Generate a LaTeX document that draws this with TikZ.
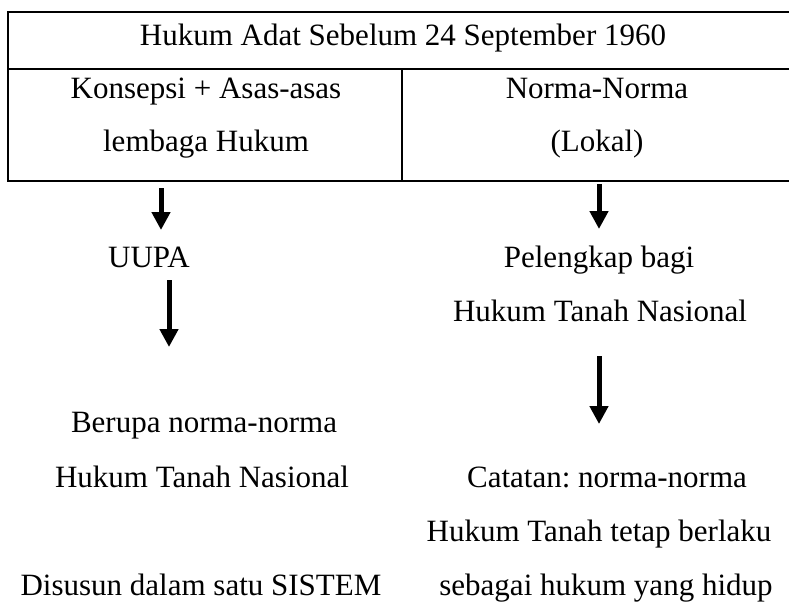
\documentclass[tikz,border=0pt]{standalone}
\usepackage{fontspec}
\setmainfont{Liberation Serif}
\usetikzlibrary{arrows.meta}
\frenchspacing
\begin{document}
\begin{tikzpicture}[x=1pt,y=-1pt,
  txt/.style={inner sep=0pt,anchor=base,font=\fontsize{31}{36}\selectfont},
  rule/.style={line width=2pt},
  arr/.style={line width=5pt,-{Triangle[width=18pt,length=18pt]}}]
\useasboundingbox (0,0) rectangle (789,603);
% table
\draw[rule] (789,12) -- (8,12) -- (8,181) -- (789,181);
\draw[rule] (8,69) -- (789,69);
\draw[rule] (402,69) -- (402,181);
% table texts
\node[txt] (title) at (403,45) {Hukum Adat Sebelum 24 September 1960};
\node[txt] (k1) at (206,98) {Konsepsi + Asas-asas};
\node[txt] (k2) at (206,151) {lembaga Hukum};
\node[txt] (n1) at (597,98) {Norma-Norma};
\node[txt] (n2) at (597,151) {(Lokal)};
% left column
\node[txt] (uupa) at (149,267) {UUPA};
\node[txt] (b1) at (204,432) {Berupa norma-norma};
\node[txt] (b2) at (202,487) {Hukum Tanah Nasional};
\node[txt] (d1) at (201,595) {Disusun dalam satu SISTEM};
% right column
\node[txt] (p1) at (599,267) {Pelengkap bagi};
\node[txt] (p2) at (600,321) {Hukum Tanah Nasional};
\node[txt] (c1) at (607,487) {Catatan: norma-norma};
\node[txt] (c2) at (599,541) {Hukum Tanah tetap berlaku};
\node[txt] (c3) at (606,595) {sebagai hukum yang hidup};
% arrow end points
\coordinate (a1s) at (161,188); \coordinate (a1e) at (161,230);
\coordinate (a2s) at (599,184); \coordinate (a2e) at (599,229);
\coordinate (a3s) at (169,280); \coordinate (a3e) at (169,347);
\coordinate (a4s) at (599,356); \coordinate (a4e) at (599,424);
\draw[arr] (a1s) -- (a1e);
\draw[arr] (a2s) -- (a2e);
\draw[arr] (a3s) -- (a3e);
\draw[arr] (a4s) -- (a4e);
\end{tikzpicture}
\end{document}
